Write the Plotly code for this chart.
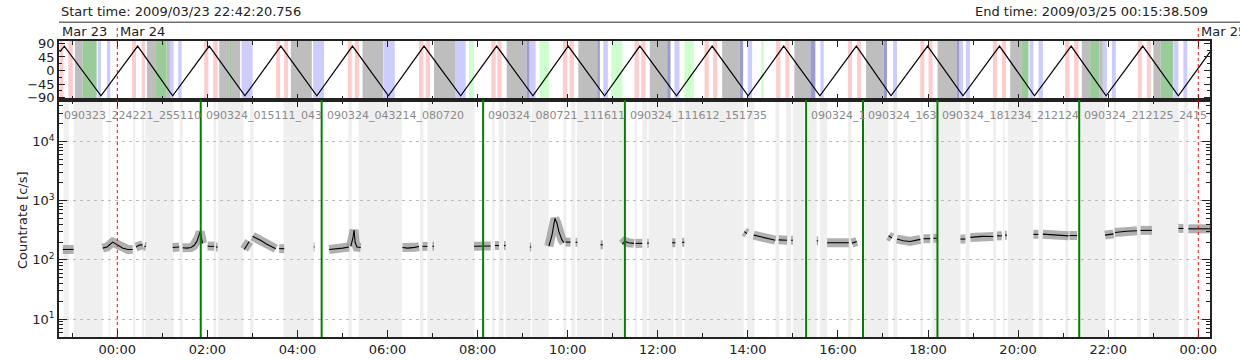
import math
import pandas as pd
import plotly.graph_objects as go

# ---------------- data ----------------
START = "2009-03-23 22:42:20.756"
END = "2009-03-25 00:15:38.509"
BASE = pd.Timestamp("2009-03-24 00:00:00")   # hours below are relative to this

# count-rate segments (hours from 2009-03-24 00:00, rate in c/s)
seg_hours = [
    [-1.21, -1.10, -0.97],
    [-0.324, -0.228, -0.102, -0.051, 0.038, 0.126, 0.237, 0.342],
    [0.415, 0.49, 0.563],
    [0.60, 0.636],
    [1.23, 1.375],
    [1.451, 1.546, 1.635, 1.701, 1.768, 1.812, 1.841, 1.87, 1.894],
    [2.005, 2.08, 2.152],
    [2.19, 2.227],
    [2.817, 2.87, 2.928],
    [3.004, 3.08, 3.19, 3.30, 3.41, 3.52],
    [3.594, 3.705],
    [4.36, 4.38],
    [4.703, 4.85, 5.0, 5.147],
    [5.184, 5.23, 5.257, 5.28, 5.32, 5.406],
    [6.331, 6.45, 6.6, 6.699],
    [6.775, 6.886],
    [6.997, 7.032],
    [7.92, 8.05, 8.17, 8.29],
    [8.385, 8.474],
    [8.585, 8.622],
    [9.16, 9.19],
    [9.583, 9.65, 9.716, 9.76, 9.805, 9.87, 9.916],
    [9.953, 10.064],
    [10.175, 10.213],
    [10.73, 10.78],
    [11.21, 11.27, 11.35, 11.47],
    [11.506, 11.655],
    [11.766, 11.80],
    [12.32, 12.39],
    [12.54, 12.59],
    [13.92, 13.98],
    [14.13, 14.3, 14.45, 14.61],
    [14.685, 14.87],
    [14.96, 15.0],
    [15.53, 15.56],
    [15.76, 16.0, 16.24],
    [16.31, 16.42],
    [16.535, 16.57],
    [17.125, 17.2],
    [17.31, 17.45, 17.6, 17.83],
    [17.9, 18.05],
    [18.12, 18.2],
    [18.72, 18.83],
    [18.94, 19.2, 19.45],
    [19.53, 19.64],
    [19.71, 19.75],
    [20.34, 20.45],
    [20.55, 20.8, 21.12],
    [21.14, 21.31],
    [21.93, 22.12],
    [22.15, 22.4, 22.64],
    [22.72, 22.97],
    [23.56, 23.67],
    [23.78, 24.0, 24.26],
]
seg_rates = [
    [150, 152, 150],
    [158, 165, 200, 190, 168, 157, 150, 150],
    [165, 178, 180],
    [170, 168],
    [162, 165],
    [160, 158, 162, 175, 205, 250, 300, 230, 190],
    [172, 168, 170],
    [165, 165],
    [150, 175, 205],
    [250, 235, 212, 188, 168, 155],
    [155, 155],
    [165, 165],
    [150, 152, 158, 165],
    [170, 230, 320, 200, 165, 162],
    [162, 158, 163, 168],
    [170, 168],
    [170, 170],
    [170, 172, 175, 172],
    [175, 175],
    [175, 175],
    [165, 165],
    [170, 260, 500, 420, 300, 220, 195],
    [200, 200],
    [198, 198],
    [180, 180],
    [185, 205, 195, 190],
    [190, 190],
    [192, 192],
    [195, 195],
    [198, 198],
    [300, 280],
    [262, 245, 230, 215],
    [218, 215],
    [215, 215],
    [210, 210],
    [195, 197, 195],
    [192, 205],
    [205, 205],
    [255, 235],
    [225, 210, 205, 222],
    [228, 228],
    [232, 232],
    [225, 225],
    [240, 250, 248],
    [255, 255],
    [262, 262],
    [270, 270],
    [272, 262, 255],
    [258, 258],
    [262, 275],
    [290, 305, 310],
    [315, 315],
    [340, 340],
    [335, 338, 335],
]

# rocking angle (vertices of the zig-zag)
angle_hours = [-1.278, -1.176, -0.362, 0.4525, 1.229, 2.041, 2.833, 3.631, 4.430,
               5.222, 6.020, 6.810, 7.624, 8.423, 9.228, 10.013, 10.819, 11.602,
               12.416, 13.208, 14.006, 14.796, 15.599, 16.409, 17.178, 17.990,
               18.776, 19.587, 20.364, 21.178, 21.954, 22.768, 23.558, 24.261]
angle_values = [62, 81, -84, 81, -84, 81, -84, 81, -84, 81, -84, 81, -84, 81, -84,
                81, -84, 81, -84, 81, -84, 81, -84, 81, -84, 81, -84, 81, -84, 81,
                -84, 81, -84, 62]

# top-panel bands (start hour, end hour)
gray_bands = [(-0.938, -0.768), (0.659, 0.858), (1.096, 1.169), (2.263, 2.485),
              (2.544, 2.728), (3.853, 4.319), (5.444, 5.910), (7.032, 7.498),
              (8.645, 9.088), (10.235, 10.657), (11.824, 12.209), (13.430, 13.820),
              (15.033, 15.388), (16.624, 17.014), (18.212, 18.642), (19.825, 20.069),
              (21.415, 21.599), (21.806, 21.881), (23.004, 23.168)]
darkblue_bands = [(9.088, 9.155), (10.657, 10.714), (12.209, 12.283), (13.820, 13.895),
                  (15.388, 15.499), (17.014, 17.090), (18.642, 18.700)]
blue_bands = [(-0.435, -0.362), (-0.228, -0.155), (1.169, 1.251), (1.353, 1.429),
              (2.760, 3.004), (4.348, 4.592), (5.923, 6.160), (7.498, 7.735),
              (9.155, 9.288), (10.790, 10.892), (12.371, 12.482), (13.997, 14.095),
              (15.610, 15.684), (17.223, 17.311), (18.700, 18.776), (18.842, 18.931),
              (20.253, 20.341), (20.453, 20.550), (21.881, 21.970), (22.081, 22.170),
              (23.463, 23.558), (23.669, 23.758)]
green_bands = [(-0.768, -0.457), (0.858, 1.096), (2.485, 2.544), (20.069, 20.231),
               (21.599, 21.806), (23.168, 23.448)]
lightgreen_bands = [(7.808, 7.919), (9.377, 9.583), (10.967, 11.211), (12.593, 12.800),
                    (14.295, 14.353)]
pink_bands = [(-1.278, -1.198), (-1.087, -0.989), (0.326, 0.415), (0.541, 0.614),
              (1.930, 2.019), (2.130, 2.227), (3.527, 3.616), (3.705, 3.793),
              (5.118, 5.206), (5.273, 5.368), (6.699, 6.797), (6.848, 6.943),
              (8.305, 8.401), (8.438, 8.533), (9.894, 9.991), (10.042, 10.138),
              (11.484, 11.580), (11.633, 11.728), (13.037, 13.132), (13.230, 13.319),
              (14.627, 14.723), (14.834, 14.922), (16.224, 16.313), (16.424, 16.513),
              (17.828, 17.917), (18.012, 18.101), (19.441, 19.530), (19.641, 19.730),
              (21.045, 21.140), (21.244, 21.340), (22.658, 22.747), (22.857, 22.946)]

# main-panel light-gray bands
main_bands = [(-1.189, -1.078), (-0.967, -0.324), (-0.191, -0.155), (0.348, 0.399),
              (0.548, 0.599), (0.621, 1.251), (1.384, 1.457), (2.138, 2.196),
              (2.234, 2.804), (2.950, 3.026), (3.691, 4.357), (5.133, 5.206),
              (5.355, 6.316), (6.721, 6.797), (6.886, 7.935), (8.319, 8.378),
              (8.467, 8.578), (8.616, 9.177), (9.206, 9.576), (9.909, 9.969),
              (10.080, 10.169), (10.204, 10.759), (10.796, 11.240), (11.484, 11.535),
              (11.655, 11.766), (11.795, 12.356), (12.393, 12.542), (12.593, 13.909),
              (13.984, 14.146), (14.612, 14.700), (14.849, 14.960), (14.996, 15.255),
              (15.329, 15.528), (15.603, 15.765), (16.224, 16.298), (16.593, 17.119),
              (17.230, 17.319), (17.835, 17.888), (18.095, 18.722), (18.834, 18.922),
              (19.448, 19.514), (19.663, 19.698), (19.774, 20.335), (20.462, 20.550),
              (21.045, 21.118), (21.349, 21.939), (22.125, 22.177), (22.642, 22.730),
              (22.902, 23.568), (23.678, 23.773)]

# observation boundaries and labels
boundary_times = ["2009-03-24 01:51:10", "2009-03-24 04:32:14", "2009-03-24 08:07:20",
                  "2009-03-24 11:16:11", "2009-03-24 15:17:35", "2009-03-24 16:33:25",
                  "2009-03-24 18:12:34", "2009-03-24 21:21:24"]
obs_labels = ["090323_224221_255110", "090324_015111_043", "090324_043214_080720",
              "090324_080721_111611", "090324_111612_151735", "090324_1",
              "090324_163", "090324_181234_212124", "090324_212125_2415"]
obs_label_times = [START] + boundary_times
day_times = ["2009-03-24 00:00:00", "2009-03-25 00:00:00"]
day_labels = ["Mar 24", "Mar 25"]
ytick_vals = [10, 100, 1000, 10000]
ytick_text = ["10<sup>1</sup>", "10<sup>2</sup>", "10<sup>3</sup>", "10<sup>4</sup>"]
angle_ticks = [-90, -45, 0, 45, 90]


def to_time(h):
    return None if h is None else BASE + pd.to_timedelta(h, unit="h")


# ---------------- figure ----------------
W, H = 1240, 360
ML, MR, MT, MB = 59, 30, 41, 23
PW, PH = W - ML - MR, H - MT - MB
split = 1 - 59 / PH           # top panel occupies top 59 px of the plot area

def py(y):                     # pixel y (from top) -> paper y
    return (H - MB - y) / PH

def px_x(x):                   # pixel x -> paper x
    return (x - ML) / PW

FONT = "DejaVu Sans"

xs, ys = [], []
for hs, vs in zip(seg_hours, seg_rates):
    xs += [to_time(h) for h in hs] + [None]
    ys += list(vs) + [None]

fig = go.Figure()
fig.add_trace(go.Scatter(x=xs, y=ys, mode="lines", xaxis="x", yaxis="y",
                         line=dict(color="rgba(150,150,150,0.75)", width=9),
                         hoverinfo="skip", showlegend=False))
fig.add_trace(go.Scatter(x=xs, y=ys, mode="lines", xaxis="x", yaxis="y",
                         line=dict(color="black", width=1.1), showlegend=False))
fig.add_trace(go.Scatter(x=[to_time(h) for h in angle_hours], y=angle_values,
                         mode="lines", xaxis="x2", yaxis="y2",
                         line=dict(color="black", width=1.2), showlegend=False))

shapes = []
def bands(lst, color, xref, yref):
    for a, b in lst:
        shapes.append(dict(type="rect", xref=xref, yref=yref, x0=to_time(a), x1=to_time(b),
                           y0=0, y1=1, fillcolor=color, line=dict(width=0), layer="below"))

bands(main_bands, "#efefef", "x", "y domain")
bands(gray_bands, "#bebebe", "x2", "y2 domain")
bands(darkblue_bands, "#9b9bd2", "x2", "y2 domain")
bands(blue_bands, "#ccccff", "x2", "y2 domain")
bands(green_bands, "#99cc99", "x2", "y2 domain")
bands(lightgreen_bands, "#ccffcc", "x2", "y2 domain")
bands(pink_bands, "#ffcccc", "x2", "y2 domain")

for t in boundary_times:
    shapes.append(dict(type="line", xref="x", yref="y domain", x0=t, x1=t, y0=0, y1=1,
                       line=dict(color="#008000", width=2)))
for t in day_times:
    shapes.append(dict(type="line", xref="x", yref="paper", x0=t, x1=t, y0=0, y1=py(27),
                       line=dict(color="red", width=1, dash="dot")))
shapes.append(dict(type="line", xref="paper", yref="paper", x0=0, x1=px_x(1240),
                   y0=py(22.3), y1=py(22.3), line=dict(color="#707070", width=1.6)))

annotations = []
annotations.append(dict(text="Start time: 2009/03/23 22:42:20.756", xref="paper", yref="paper",
                        x=0, y=py(12), xanchor="left", yanchor="middle", showarrow=False,
                        font=dict(family=FONT, size=13, color="#222")))
annotations.append(dict(text="End time: 2009/03/25 00:15:38.509", xref="paper", yref="paper",
                        x=1, y=py(12), xanchor="right", yanchor="middle", showarrow=False,
                        font=dict(family=FONT, size=13, color="#222")))
annotations.append(dict(text="Mar 23", xref="x", yref="paper", x=START, xshift=1,
                        y=py(31), xanchor="left", yanchor="middle", showarrow=False,
                        font=dict(family=FONT, size=13, color="#222")))
for t, lab in zip(day_times, day_labels):
    annotations.append(dict(text=lab, xref="x", yref="paper", x=t, xshift=1,
                            y=py(31), xanchor="left", yanchor="middle", showarrow=False,
                            font=dict(family=FONT, size=13, color="#222")))
for t, lab in zip(obs_label_times, obs_labels):
    annotations.append(dict(text=lab, xref="x", yref="paper", x=t, xshift=3,
                            y=py(115.5), xanchor="left", yanchor="middle", showarrow=False,
                            font=dict(family=FONT, size=11, color="#8a8a8a")))
annotations.append(dict(text="Countrate [c/s]", xref="paper", yref="paper",
                        x=px_x(22), y=py(220), textangle=-90, showarrow=False,
                        xanchor="center", yanchor="middle",
                        font=dict(family=FONT, size=13, color="#222")))

minor_log = [k * 10 ** e for e in range(0, 5) for k in range(2, 10)]

axis_common = dict(showline=True, linecolor="#222", linewidth=1.5, mirror="allticks",
                   ticks="inside", tickcolor="#222", zeroline=False)

fig.update_layout(
    width=W, height=H, margin=dict(l=ML, r=MR, t=MT, b=MB, autoexpand=False),
    paper_bgcolor="white", plot_bgcolor="white",
    font=dict(family=FONT, size=13, color="#222"),
    showlegend=False,
    xaxis=dict(domain=[0, 1], anchor="y", type="date", range=[START, END],
               tick0="2009-03-24 00:00:00", dtick=7200000, tickformat="%H:%M",
               ticklen=7, tickwidth=1, showgrid=False,
               minor=dict(dtick=3600000, ticks="inside", ticklen=4, tickcolor="#222"),
               tickfont=dict(family=FONT, size=13), **axis_common),
    yaxis=dict(domain=[0, split], anchor="x", type="log",
               range=[math.log10(5), math.log10(50000)],
               tickmode="array", tickvals=ytick_vals, ticktext=ytick_text,
               ticklen=8, showgrid=True, gridcolor="#bbbbbb", griddash="3px,4px", gridwidth=1,
               minor=dict(tickmode="array", tickvals=minor_log, ticks="inside",
                          ticklen=4, tickcolor="#222", showgrid=False),
               tickfont=dict(family=FONT, size=13), **axis_common),
    xaxis2=dict(domain=[0, 1], anchor="y2", type="date", range=[START, END],
                tick0="2009-03-24 00:00:00", dtick=7200000, showticklabels=False,
                ticklen=6, showgrid=False,
                minor=dict(dtick=3600000, ticks="inside", ticklen=4, tickcolor="#222"),
                **axis_common),
    yaxis2=dict(domain=[split, 1], anchor="x2", range=[-98, 98],
                tickmode="array", tickvals=angle_ticks, ticklen=6, showgrid=False,
                minor=dict(dtick=22.5, tick0=0, ticks="inside", ticklen=3, tickcolor="#222"),
                tickfont=dict(family=FONT, size=13), **axis_common),
    shapes=shapes,
    annotations=annotations,
)

# remove the browser's default 8 px body margin so the figure sits at the window corner
fig.write_html("out.html",
               config={"displayModeBar": False},
               post_script="document.body.style.margin='0';document.body.style.overflow='hidden';")
